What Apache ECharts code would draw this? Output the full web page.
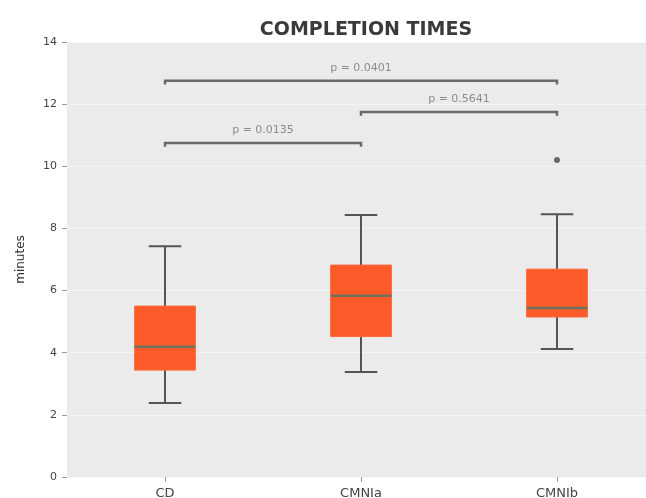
<!DOCTYPE html>
<html>
<head>
<meta charset="utf-8">
<script src="https://cdn.jsdelivr.net/npm/echarts@6/dist/echarts.min.js"></script>
<style>
  html, body { margin: 0; padding: 0; background: #ffffff; }
  #chart { width: 646px; height: 498px; }
</style>
</head>
<body>
<div id="chart"></div>
<script>
// Groups and their five-number summaries (minutes)
var categories = ['CD', 'CMNIa', 'CMNIb'];
var whiskerLow  = [2.38, 3.38, 4.12];
var quartile1   = [3.44, 4.52, 5.15];
var medians     = [4.19, 5.83, 5.44];
var quartile3   = [5.50, 6.82, 6.69];
var whiskerHigh = [7.43, 8.43, 8.46];

// Outliers: [group index, minutes]
var outliers = [[2, 10.2]];

// Pairwise comparisons: from group, to group, bracket height, label
var pairFrom   = [0, 1, 0];
var pairTo     = [1, 2, 2];
var pairHeight = [10.75, 11.75, 12.75];
var pairLabel  = ['p = 0.0135', 'p = 0.5641', 'p = 0.0401'];

var yTicks = [0, 2, 4, 6, 8, 10, 12, 14];

var boxData = categories.map(function (c, i) {
  return [i, whiskerLow[i], quartile1[i], medians[i], quartile3[i], whiskerHigh[i]];
});
var pairData = pairFrom.map(function (f, i) {
  return [pairFrom[i], pairTo[i], pairHeight[i], pairLabel[i]];
});

var chart = echarts.init(document.getElementById('chart'), null, { renderer: 'canvas' });

function renderBox(params, api) {
  var x = api.value(0);
  var band = api.size([1, 0])[0];
  var halfBox = band * 0.155;
  var halfCap = band * 0.083;
  var pLow = api.coord([x, api.value(1)]);
  var pQ1 = api.coord([x, api.value(2)]);
  var pMed = api.coord([x, api.value(3)]);
  var pQ3 = api.coord([x, api.value(4)]);
  var pHigh = api.coord([x, api.value(5)]);
  var cx = pLow[0];
  var lineStyle = { stroke: '#555555', lineWidth: 2 };
  return {
    type: 'group',
    children: [
      { type: 'line', shape: { x1: cx, y1: pLow[1], x2: cx, y2: pQ1[1] }, style: lineStyle },
      { type: 'line', shape: { x1: cx, y1: pQ3[1], x2: cx, y2: pHigh[1] }, style: lineStyle },
      { type: 'line', shape: { x1: cx - halfCap, y1: pLow[1], x2: cx + halfCap, y2: pLow[1] }, style: lineStyle },
      { type: 'line', shape: { x1: cx - halfCap, y1: pHigh[1], x2: cx + halfCap, y2: pHigh[1] }, style: lineStyle },
      { type: 'rect', shape: { x: cx - halfBox, y: pQ3[1], width: halfBox * 2, height: pQ1[1] - pQ3[1] },
        style: { fill: '#fd5a2a', stroke: '#f86a3a', lineWidth: 1 } },
      { type: 'line', shape: { x1: cx - halfBox, y1: pMed[1], x2: cx + halfBox, y2: pMed[1] },
        style: { stroke: '#6e7360', lineWidth: 2.5 } }
    ]
  };
}

function renderPair(params, api) {
  var a = api.coord([api.value(0), api.value(2)]);
  var b = api.coord([api.value(1), api.value(2)]);
  var drop = api.coord([api.value(0), api.value(2) - 0.12])[1];
  var label = pairLabel[params.dataIndex];
  return {
    type: 'group',
    children: [
      { type: 'polyline', shape: { points: [[a[0], drop], [a[0], a[1]], [b[0], b[1]], [b[0], drop]] },
        style: { stroke: '#6a6a6a', lineWidth: 2.5, fill: null } },
      { type: 'text', x: (a[0] + b[0]) / 2, y: a[1] - 7,
        style: { text: label, fill: '#8c8c8c', font: '11px "DejaVu Sans"', align: 'center', verticalAlign: 'bottom' } }
    ]
  };
}

chart.setOption({
  animation: false,
  backgroundColor: '#ffffff',
  title: {
    text: 'COMPLETION TIMES',
    left: 361,
    textAlign: 'center',
    top: 16,
    textStyle: { fontFamily: 'DejaVu Sans', fontWeight: 'bold', fontSize: 19, color: '#3a3a3a' }
  },
  grid: {
    left: 67, right: -9, top: 42, bottom: 21,
    outerBoundsMode: 'none',
    containLabel: false,
    show: true, backgroundColor: '#ebebeb', borderWidth: 0
  },
  xAxis: {
    type: 'category',
    data: categories,
    boundaryGap: true,
    axisLine: { show: false },
    axisTick: { show: true, alignWithLabel: true, length: 5, lineStyle: { color: '#999999' } },
    axisLabel: { margin: 10, color: '#444444', fontSize: 13, fontFamily: 'DejaVu Sans' },
    splitLine: { show: false }
  },
  yAxis: {
    type: 'value',
    min: 0, max: 14, interval: 2,
    name: 'minutes',
    nameLocation: 'middle',
    nameGap: 40,
    nameTextStyle: { color: '#333333', fontSize: 12, fontFamily: 'DejaVu Sans' },
    axisLine: { show: false },
    axisTick: { show: true, length: 5, lineStyle: { color: '#999999' } },
    axisLabel: {
      margin: 10, color: '#444444', fontSize: 11, fontFamily: 'DejaVu Sans',
      formatter: function (v) { return yTicks.indexOf(v) >= 0 ? String(v) : ''; }
    },
    splitLine: { show: true, lineStyle: { color: '#f4f4f4', width: 1 } }
  },
  series: [
    {
      type: 'custom',
      renderItem: renderBox,
      data: boxData,
      encode: { x: 0, y: [1, 2, 3, 4, 5] },
      z: 3
    },
    {
      type: 'scatter',
      data: outliers,
      symbol: 'circle',
      symbolSize: 6,
      itemStyle: { color: '#4a4a4a' },
      z: 4
    },
    {
      type: 'custom',
      renderItem: renderPair,
      data: pairData,
      encode: { x: [0, 1], y: 2 },
      clip: false,
      z: 5
    }
  ]
});
</script>
</body>
</html>
